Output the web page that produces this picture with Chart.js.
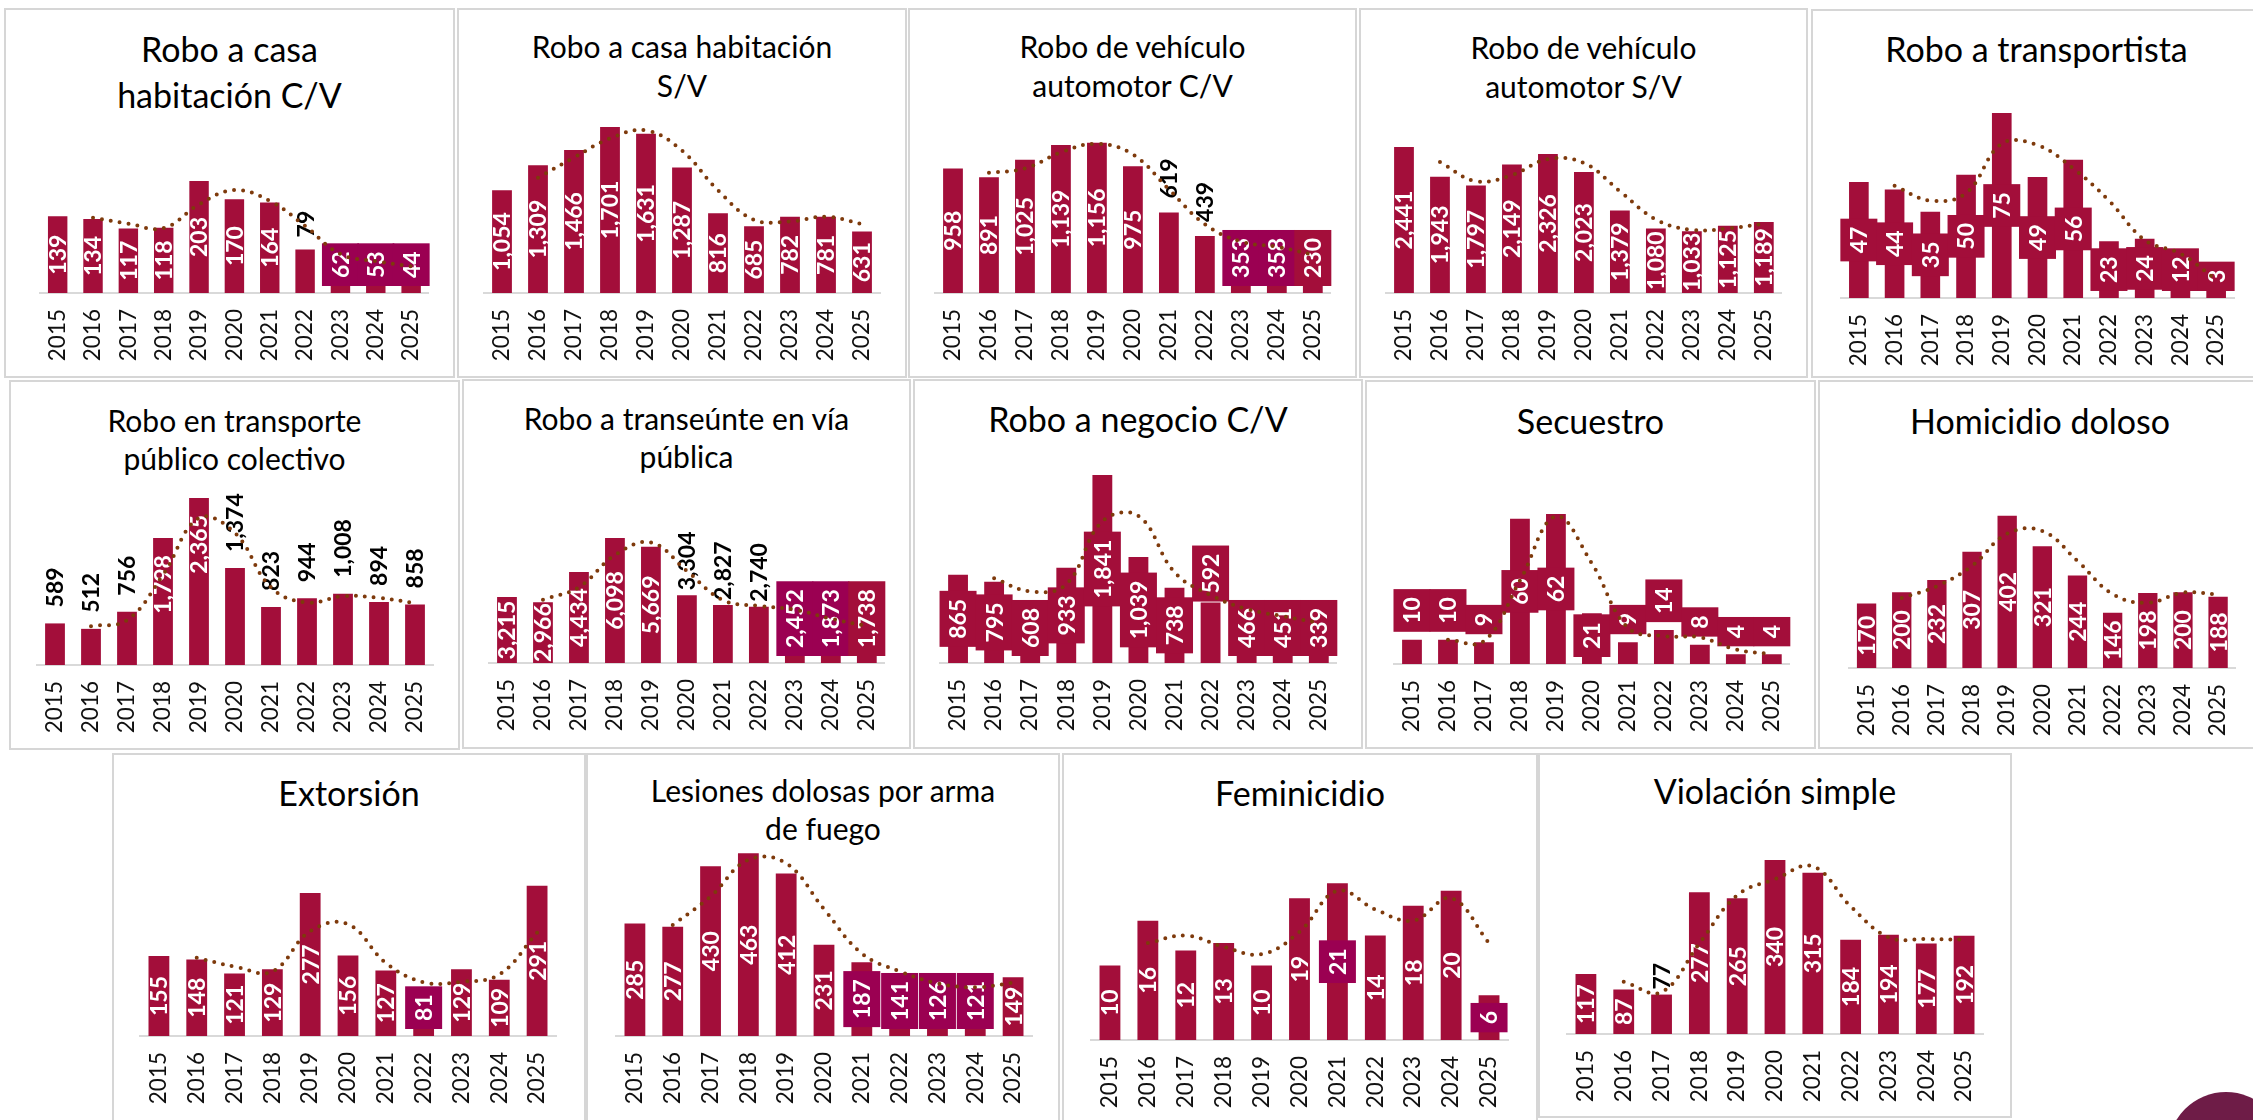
<!DOCTYPE html>
<html>
<head>
<meta charset="utf-8">
<script src="https://cdn.jsdelivr.net/npm/chart.js@4.4.1/dist/chart.umd.min.js"></script>
<style>
html, body { margin: 0; padding: 0; background: #fff; }
body { width: 2253px; height: 1120px; position: relative; overflow: hidden; font-family: Lato, sans-serif; }
.panel { position: absolute; box-sizing: border-box; border: 2px solid #d6d6d6; background: #fff; }
.title { position: absolute; white-space: nowrap; text-align: center; color: #000; line-height: 1.2; }
canvas { position: absolute; }
.badge { position: absolute; border-radius: 50%; background: #6e1c47; }
</style>
</head>
<body>
<script>
// years on the x axis
const years = ['2015', '2016', '2017', '2018', '2019', '2020', '2021', '2022', '2023', '2024', '2025'];

// yearly totals per crime
const roboCasaCV = [139, 134, 117, 118, 203, 170, 164, 79, 62, 53, 44];
const roboCasaSV = [1054, 1309, 1466, 1701, 1631, 1287, 816, 685, 782, 781, 631];
const roboVehiculoCV = [958, 891, 1025, 1139, 1156, 975, 619, 439, 353, 358, 230];
const roboVehiculoSV = [2441, 1943, 1797, 2149, 2326, 2023, 1379, 1080, 1033, 1125, 1189];
const roboTransportista = [47, 44, 35, 50, 75, 49, 56, 23, 24, 12, 3];
const roboTransporteColectivo = [589, 512, 756, 1798, 2365, 1374, 823, 944, 1008, 894, 858];
const roboTranseunte = [3215, 2966, 4434, 6098, 5669, 3304, 2827, 2740, 2452, 1873, 1738];
const roboNegocioCV = [865, 795, 608, 933, 1841, 1039, 738, 592, 466, 451, 339];
const secuestro = [10, 10, 9, 60, 62, 21, 9, 14, 8, 4, 4];
const homicidioDoloso = [170, 200, 232, 307, 402, 321, 244, 146, 198, 200, 188];
const extorsion = [155, 148, 121, 129, 277, 156, 127, 81, 129, 109, 291];
const lesionesArmaFuego = [285, 277, 430, 463, 412, 231, 187, 141, 126, 121, 149];
const feminicidio = [10, 16, 12, 13, 10, 19, 21, 14, 18, 20, 6];
const violacionSimple = [117, 87, 77, 277, 265, 340, 315, 184, 194, 177, 192];

const CRIMSON = '#A30E3A';
const MAGENTA = '#9B0052';
const TREND = '#7E3A0C';
const FONT = 'Lato, sans-serif';

// panel layout: box = border rect, plot = [left, right, baseline], k = px per unit
// modes: c centre, o outside end, i inside end, b box above bar; boxes: m magenta, r crimson
const panels = [
    { title: ['Robo a casa', 'habitación C/V'], data: roboCasaCV, box: [4, 8, 455, 378], plot: [40, 436, 293], k: 0.552, tSize: 34, tBase: [63, 109], modes: 'cccccccoccc', boxes: '........mmm', gap: 12 },
    { title: ['Robo a casa habitación', 'S/V'], data: roboCasaSV, box: [457, 8, 907, 378], plot: [484, 880, 293], k: 0.0976, tSize: 30, tBase: [58, 97], modes: 'ccccccccccc', boxes: '...........', gap: 12 },
    { title: ['Robo de vehículo', 'automotor C/V'], data: roboVehiculoCV, box: [908, 8, 1357, 378], plot: [935, 1331, 293], k: 0.130, tSize: 30, tBase: [58, 97], modes: 'ccccccooccc', boxes: '........mmr', gap: 14 },
    { title: ['Robo de vehículo', 'automotor S/V'], data: roboVehiculoSV, box: [1359, 8, 1808, 378], plot: [1386, 1782, 293], k: 0.0598, tSize: 30, tBase: [59, 98], modes: 'ccccccccccc', boxes: '...........', gap: 12 },
    { title: ['Robo a transportista'], data: roboTransportista, box: [1811, 9, 2262, 378], plot: [1841, 2234, 298], k: 2.467, tSize: 34, tBase: [63], modes: 'ccccccccccc', boxes: 'rrrrrrrrrrr', gap: 12 },
    { title: ['Robo en transporte', 'público colectivo'], data: roboTransporteColectivo, box: [9, 380, 460, 750], plot: [37, 433, 665], k: 0.0706, tSize: 30, tBase: [432, 470], modes: 'oooiioooooo', boxes: '...........', gap: 16 },
    { title: ['Robo a transeúnte en vía', 'pública'], data: roboTranseunte, box: [462, 379, 911, 749], plot: [489, 885, 663], k: 0.0205, tSize: 30, tBase: [430, 468], modes: 'cccccoooccc', boxes: '........mmr', gap: 5 },
    { title: ['Robo a negocio C/V'], data: roboNegocioCV, box: [913, 379, 1363, 749], plot: [940, 1337, 663], k: 0.1021, tSize: 34, tBase: [433], modes: 'cccccccbccc', boxes: 'rrrrrrrrrrr', gap: 1 },
    { title: ['Secuestro'], data: secuestro, box: [1365, 380, 1816, 749], plot: [1394, 1790, 664], k: 2.42, tSize: 34, tBase: [435], modes: 'bbbcccbbbbb', boxes: 'rrrrrrrrrrr', gap: 8 },
    { title: ['Homicidio doloso'], data: homicidioDoloso, box: [1818, 380, 2262, 749], plot: [1849, 2242, 668], k: 0.379, tSize: 34, tBase: [435], modes: 'ccccccccccc', boxes: '...........', gap: 12 },
    { title: ['Extorsión'], data: extorsion, box: [112, 753, 586, 1125], plot: [140, 556, 1036], k: 0.5166, tSize: 34, tBase: [807], modes: 'ccccccccccc', boxes: '.......m...', gap: 12 },
    { title: ['Lesiones dolosas por arma', 'de fuego'], data: lesionesArmaFuego, box: [586, 753, 1060, 1125], plot: [616, 1032, 1036], k: 0.3946, tSize: 30, tBase: [802, 840], modes: 'ccccccccccc', boxes: '......mmmm.', gap: 12 },
    { title: ['Feminicidio'], data: feminicidio, box: [1062, 753, 1538, 1125], plot: [1091, 1508, 1040], k: 7.46, tSize: 34, tBase: [807], modes: 'ccccccccccc', boxes: '......m...m', gap: 12 },
    { title: ['Violación simple'], data: violacionSimple, box: [1538, 753, 2012, 1118], plot: [1567, 1983, 1034], k: 0.512, tSize: 34, tBase: [805], modes: 'ccocccccccc', boxes: '...........', gap: 5 }
];

// Excel-style 2-period moving average trendline
function movingAverage(values) {
    return values.map((v, i) => i === 0 ? null : (values[i - 1] + v) / 2);
}

function makeLabelPlugin(p) {
    return {
        id: 'barLabels',
        afterDatasetDraw(chart, args) {
            if (args.index !== 0) return;
            const ctx = chart.ctx;
            const base = chart.scales.y.getPixelForValue(0);
            ctx.save();
            ctx.font = 'bold 23px ' + FONT;
            const items = args.meta.data.map((bar, i) => {
                const txt = p.data[i].toLocaleString('en-US');
                const tw = ctx.measureText(txt).width;
                const bh = tw + 16, bw = 37;
                const mode = p.modes[i];
                const boxCh = p.boxes[i];
                const color = boxCh === 'm' ? MAGENTA : boxCh === 'r' ? CRIMSON : null;
                let cy;
                if (mode === 'c') {
                    cy = (bar.y + base) / 2;
                    if (color && cy + bh / 2 > base - 7) cy = base - 7 - bh / 2;
                } else if (mode === 'i') {
                    cy = bar.y + 17 + tw / 2;
                } else if (mode === 'o') {
                    cy = bar.y - p.gap - tw / 2;
                } else {
                    cy = bar.y - p.gap - bh / 2;
                }
                return { x: bar.x, cy, txt, bw, bh, color, mode };
            });
            items.forEach(it => {
                if (!it.color) return;
                ctx.fillStyle = it.color;
                ctx.fillRect(it.x - it.bw / 2, it.cy - it.bh / 2, it.bw, it.bh);
            });
            items.forEach(it => {
                ctx.save();
                ctx.translate(it.x, it.cy);
                ctx.rotate(-Math.PI / 2);
                ctx.fillStyle = it.mode === 'o' ? '#000' : '#fff';
                ctx.textAlign = 'center';
                ctx.textBaseline = 'middle';
                ctx.fillText(it.txt, 0, 1);
                ctx.restore();
            });
            ctx.restore();
        }
    };
}

panels.forEach(p => {
    const [l, t, r, b] = p.box;
    const w = r - l, h = b - t;

    const div = document.createElement('div');
    div.className = 'panel';
    div.style.cssText = `left:${l}px;top:${t}px;width:${w}px;height:${h}px;`;
    document.body.appendChild(div);

    p.title.forEach((line, i) => {
        const td = document.createElement('div');
        td.className = 'title';
        td.textContent = line;
        td.style.cssText = `left:${l}px;width:${w}px;top:${p.tBase[i] - 0.987 * p.tSize}px;font-size:${p.tSize}px;`;
        document.body.appendChild(td);
    });

    const canvas = document.createElement('canvas');
    canvas.width = w;
    canvas.height = h;
    canvas.style.cssText = `left:${l}px;top:${t}px;width:${w}px;height:${h}px;`;
    document.body.appendChild(canvas);

    const padTop = 10;
    const baseRel = p.plot[2] - t;
    const axisH = h - baseRel;
    const yMax = (baseRel - padTop) / p.k;

    new Chart(canvas, {
        data: {
            labels: years,
            datasets: [{
                type: 'bar',
                data: p.data,
                backgroundColor: CRIMSON,
                categoryPercentage: 1,
                barPercentage: 0.55,
                order: 2
            }, {
                type: 'line',
                data: movingAverage(p.data),
                borderColor: TREND,
                borderWidth: 4,
                borderDash: [0, 9],
                borderCapStyle: 'round',
                pointRadius: 0,
                tension: 0.4,
                fill: false,
                order: 1
            }]
        },
        options: {
            responsive: false,
            animation: false,
            devicePixelRatio: 1,
            layout: { padding: { left: p.plot[0] - l, right: r - p.plot[1], top: padTop, bottom: 0 } },
            plugins: { legend: { display: false }, tooltip: { enabled: false } },
            scales: {
                x: {
                    grid: { display: false, drawTicks: false },
                    border: { display: true, color: '#d9d9d9', width: 2 },
                    ticks: { autoSkip: false, minRotation: 90, maxRotation: 90, padding: 16, color: '#111', font: { family: FONT, size: 22.5 } },
                    afterFit: s => { s.height = axisH; }
                },
                y: { display: false, min: 0, max: yMax }
            }
        },
        plugins: [makeLabelPlugin(p)]
    });
});

const badge = document.createElement('div');
badge.className = 'badge';
badge.style.cssText = 'left:2168px;top:1092px;width:116px;height:116px;';
document.body.appendChild(badge);
</script>
</body>
</html>
